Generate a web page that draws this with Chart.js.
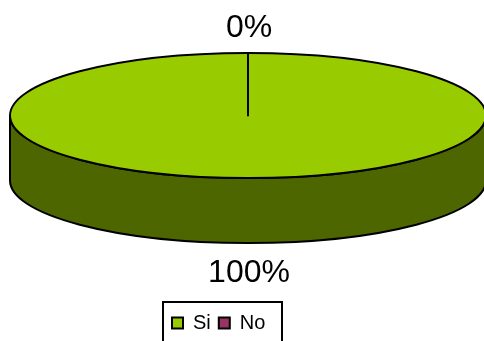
<!DOCTYPE html>
<html>
<head>
<meta charset="utf-8">
<style>
  html, body { margin: 0; padding: 0; background: #fff; overflow: hidden; }
</style>
<script src="https://cdn.jsdelivr.net/npm/chart.js@4"></script>
</head>
<body>
<canvas id="pie" width="484" height="341"></canvas>
<script>
const categories = ['Si', 'No'];
const shares = [100, 0];
const topColors = ['#99CC00', '#993366'];
const sideColors = ['#4D6600', '#4D1A33'];

// flattened look of the disc
const squash = 0.2626;
const depth = 65;
const labelFont = '32px "Liberation Sans", Arial, sans-serif';

const fakePie3d = {
    id: 'fakePie3d',
    afterLayout(chart) {
        // legend hangs off the bottom edge, left of the pie centre
        const legend = chart.legend;
        legend.left = 164;
        legend.right = 282;
        legend.top = 305;
        legend.bottom = 345;
    },
    beforeDatasetsDraw(chart) {
        const ctx = chart.ctx;
        const arcs = chart.getDatasetMeta(0).data;
        const total = shares.reduce((a, b) => a + b, 0);
        const props = ['x', 'y', 'startAngle', 'endAngle', 'outerRadius'];

        ctx.save();
        ctx.lineWidth = 2;
        ctx.strokeStyle = '#000';
        ctx.lineJoin = 'round';

        arcs.forEach((arc, i) => {
            const { x, y, startAngle, endAngle, outerRadius } = arc.getProps(props, true);
            const ry = outerRadius * squash;
            // front wall, only the part facing the viewer
            const from = Math.max(startAngle, 0);
            const to = Math.min(endAngle, Math.PI);
            if (to > from) {
                ctx.beginPath();
                ctx.ellipse(x, y, outerRadius, ry, 0, from, to);
                ctx.ellipse(x, y + depth, outerRadius, ry, 0, to, from, true);
                ctx.closePath();
                ctx.fillStyle = sideColors[i];
                ctx.fill();
                ctx.stroke();
            }
        });

        arcs.forEach((arc) => {
            const { x, y, startAngle, endAngle, outerRadius } = arc.getProps(props, true);
            const ry = outerRadius * squash;
            ctx.beginPath();
            if (endAngle - startAngle >= Math.PI * 2 - 1e-6) {
                ctx.ellipse(x, y, outerRadius, ry, 0, 0, Math.PI * 2);
            } else {
                ctx.moveTo(x, y);
                ctx.ellipse(x, y, outerRadius, ry, 0, startAngle, endAngle);
                ctx.closePath();
            }
            ctx.fillStyle = arc.options.backgroundColor;
            ctx.fill();
            ctx.stroke();
        });

        // seam of the empty slice runs on top of the full one
        arcs.forEach((arc) => {
            const { x, y, startAngle, endAngle, outerRadius } = arc.getProps(props, true);
            if (endAngle - startAngle < 1e-6) {
                const ry = outerRadius * squash;
                ctx.beginPath();
                ctx.moveTo(x, y);
                ctx.lineTo(x + Math.cos(startAngle) * outerRadius, y + Math.sin(startAngle) * ry);
                ctx.stroke();
            }
        });

        // percentage labels
        ctx.fillStyle = '#000';
        ctx.font = labelFont;
        ctx.textAlign = 'center';
        ctx.textBaseline = 'middle';
        arcs.forEach((arc, i) => {
            const { x, y, startAngle, endAngle, outerRadius } = arc.getProps(props, true);
            const ry = outerRadius * squash;
            const mid = (startAngle + endAngle) / 2;
            const sin = Math.sin(mid);
            const below = sin > 0;
            const ly = y + sin * ry + (below ? depth + 30 : -25);
            const lx = x + Math.cos(mid) * outerRadius + 1;
            ctx.fillText(Math.round(shares[i] / total * 100) + '%', lx, ly);
        });
        ctx.restore();

        return false;
    },
    afterDraw(chart) {
        const { ctx, legend } = chart;
        // frame around the legend, open past the bottom of the canvas
        ctx.save();
        ctx.strokeStyle = '#000';
        ctx.lineWidth = 2;
        ctx.strokeRect(legend.left - 1, legend.top - 3, legend.right - legend.left + 1, legend.bottom - legend.top + 3);
        ctx.restore();
    }
};

new Chart(document.getElementById('pie'), {
    type: 'pie',
    data: {
        labels: categories,
        datasets: [{
            data: shares,
            backgroundColor: topColors,
            borderColor: '#000',
            borderWidth: 2
        }]
    },
    options: {
        responsive: false,
        animation: false,
        radius: 238,
        layout: { padding: { left: 12, top: 0, right: 0, bottom: 72 } },
        plugins: {
            tooltip: { enabled: false },
            legend: {
                position: 'bottom',
                align: 'start',
                labels: {
                    color: '#000',
                    boxWidth: 11,
                    boxHeight: 11,
                    padding: 8,
                    font: { family: '"Liberation Sans", Arial, sans-serif', size: 20 }
                }
            }
        }
    },
    plugins: [fakePie3d]
});
</script>
</body>
</html>
